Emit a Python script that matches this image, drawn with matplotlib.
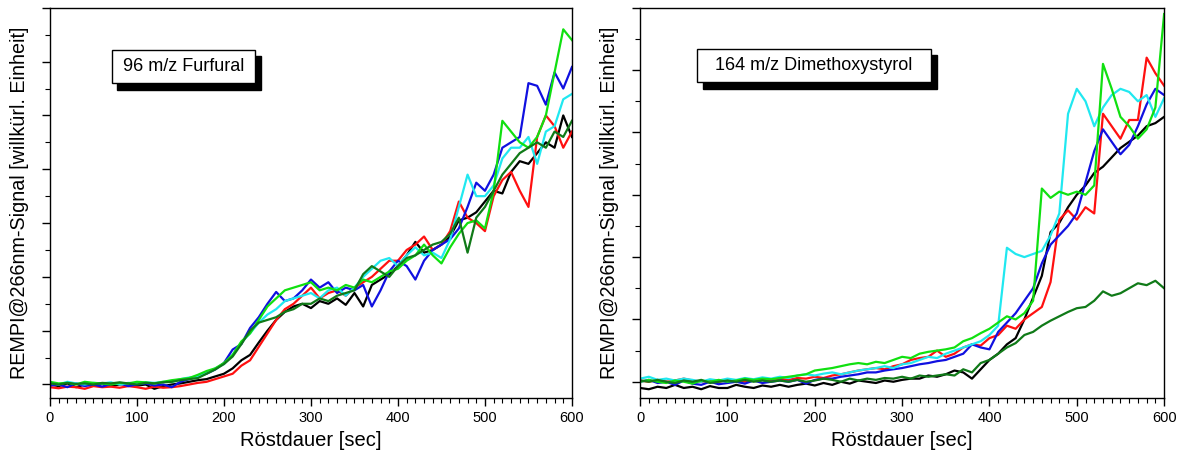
"""
REMPI-Signal während der Röstung: Furfural und Dimethoxystyrol
"""

import numpy as np
import matplotlib
matplotlib.use("Agg")
import matplotlib.pyplot as plt
from matplotlib.patches import Rectangle
from matplotlib.ticker import MultipleLocator

plt.rcParams['font.family'] = ['Liberation Sans', 'DejaVu Sans']

t_sec = np.arange(0, 601, 10)

# 96 m/z Furfural (Einheiten = Hauptteilstriche)
furf_black = [0, -0.03, 0.02, -0.05, 0, -0.02, 0.01, -0.03, 0, 0.02, -0.02, 0, -0.08, -0.03, 0,
              0.02, 0.05, 0.08, 0.1, 0.15, 0.2, 0.3, 0.45, 0.55, 0.78,
              1.0, 1.2, 1.35, 1.45, 1.5, 1.42, 1.55, 1.5, 1.6, 1.48,
              1.7, 1.45, 1.85, 1.95, 2.05, 2.2, 2.4, 2.65, 2.45, 2.5,
              2.6, 2.75, 3.05, 3.1, 3.2, 3.4, 3.6, 3.55, 3.95, 4.15,
              4.1, 4.3, 4.5, 4.4, 5.0, 4.6]
furf_red = [-0.05, -0.07, -0.04, -0.05, -0.08, -0.03, -0.05, -0.04, -0.06, -0.03, -0.05, -0.08, -0.04, -0.06, -0.05,
            -0.03, 0, 0.03, 0.05, 0.1, 0.15, 0.2, 0.35, 0.45, 0.7,
            0.95, 1.2, 1.4, 1.5, 1.65, 1.8, 1.6, 1.7, 1.75, 1.65,
            1.8, 1.9, 2.0, 2.15, 2.3, 2.3, 2.5, 2.6, 2.75, 2.5,
            2.6, 2.85, 3.4, 3.1, 3.0, 2.85, 3.5, 3.8, 3.95, 3.6,
            3.3, 4.6, 5.0, 4.8, 4.4, 4.7]
furf_blue = [-0.02, 0.0, -0.05, 0.02, -0.03, 0, -0.04, 0.01, 0.02, -0.03, 0, 0.02, -0.02, 0, -0.05,
             0.05, 0.1, 0.15, 0.2, 0.28, 0.4, 0.65, 0.75, 1.05, 1.25,
             1.5, 1.72, 1.55, 1.6, 1.75, 1.95, 1.8, 1.9, 1.7, 1.8,
             1.75, 1.85, 1.45, 1.75, 2.1, 2.3, 2.2, 1.95, 2.3, 2.5,
             2.6, 2.7, 2.9, 3.3, 3.75, 3.6, 3.9, 4.4, 4.5, 4.6,
             5.6, 5.55, 5.2, 5.8, 5.5, 5.9]
furf_cyan = [0.03, 0, 0.05, 0.02, 0, 0.03, 0.02, 0.04, 0, 0.03, 0.02, 0.04, 0.03, 0.05, 0.05,
             0.1, 0.13, 0.15, 0.22, 0.3, 0.38, 0.55, 0.78, 0.95, 1.15,
             1.3, 1.4, 1.55, 1.6, 1.65, 1.7, 1.6, 1.75, 1.8, 1.65,
             1.8, 2.0, 2.15, 2.3, 2.35, 2.2, 2.4, 2.55, 2.4, 2.45,
             2.35, 2.7, 3.3, 3.9, 3.5, 3.5, 3.7, 4.2, 4.4, 4.4,
             4.6, 4.1, 4.7, 4.8, 5.3, 5.4]
furf_green = [0.05, 0.02, 0.03, 0, 0.05, 0.03, 0.02, 0.0, 0.03, 0.02, 0.05, 0.04, 0.02, 0.05, 0.08,
              0.1, 0.12, 0.18, 0.25, 0.3, 0.4, 0.55, 0.8, 0.95, 1.2,
              1.45, 1.6, 1.75, 1.8, 1.85, 1.9, 1.75, 1.8, 1.75, 1.85,
              1.8, 1.95, 1.9, 2.0, 2.1, 2.15, 2.3, 2.4, 2.6, 2.4,
              2.25, 2.55, 2.8, 3.0, 3.05, 2.9, 3.6, 4.9, 4.7, 4.5,
              4.4, 4.6, 5.0, 5.8, 6.6, 6.4]
furf_dkgreen = [0.02, 0.0, 0.03, 0.01, 0.02, 0.0, 0.03, 0.02, 0.04, 0.02, 0.0, 0.03, 0.02, 0.04, 0.05,
                0.08, 0.1, 0.12, 0.2, 0.28, 0.38, 0.52, 0.75, 1.0, 1.15,
                1.2, 1.25, 1.35, 1.4, 1.5, 1.5, 1.6, 1.55, 1.65, 1.7,
                1.75, 2.05, 2.2, 2.1, 2.0, 2.2, 2.35, 2.4, 2.5, 2.6,
                2.65, 2.8, 3.1, 2.45, 3.1, 3.3, 3.6, 3.9, 4.1, 4.3,
                4.4, 4.5, 4.4, 4.7, 4.6, 4.9]

# 164 m/z Dimethoxystyrol
dms_black = [-0.1, -0.12, -0.08, -0.1, -0.05, -0.1, -0.08, -0.12, -0.07, -0.1, -0.1, -0.05, -0.08, -0.1, -0.06,
             -0.08, -0.05, -0.08, -0.05, -0.03, -0.06, -0.02, -0.05, 0.0, -0.03,
             0.02, 0.0, -0.02, 0.02, 0.0, 0.03, 0.05, 0.05, 0.1, 0.08,
             0.12, 0.18, 0.15, 0.05, 0.2, 0.35, 0.45, 0.6, 0.7, 1.0,
             1.35, 1.7, 2.4, 2.55, 2.8, 3.0, 3.15, 3.35, 3.45, 3.6,
             3.75, 3.85, 3.95, 4.1, 4.15, 4.25]
dms_red = [0.02, 0, 0.03, 0.0, 0.02, 0.05, 0.02, 0.0, 0.02, 0.0, 0.03, 0.02, 0.0, 0.02, 0.03,
           0.02, 0.05, 0.03, 0.06, 0.05, 0.08, 0.06, 0.1, 0.12, 0.15,
           0.18, 0.2, 0.22, 0.2, 0.25, 0.28, 0.35, 0.38, 0.4, 0.5,
           0.4, 0.45, 0.55, 0.6, 0.58, 0.7, 0.75, 0.9, 0.85, 1.0,
           1.1, 1.2, 1.6, 2.6, 2.75, 2.6, 2.8, 2.7, 4.3, 4.1,
           3.9, 4.2, 4.2, 5.2, 4.95, 4.75]
dms_blue = [0.0, 0.03, -0.02, 0.0, -0.05, 0.02, -0.03, -0.05, 0.0, -0.04, -0.02, 0.0, -0.03, 0.02, -0.02,
            0.0, 0.02, 0.0, 0.03, -0.03, 0.03, 0.05, 0.05, 0.08, 0.1,
            0.12, 0.15, 0.15, 0.18, 0.2, 0.22, 0.25, 0.28, 0.3, 0.33,
            0.35, 0.4, 0.45, 0.6, 0.55, 0.52, 0.8, 0.95, 1.1, 1.3,
            1.5, 1.9, 2.2, 2.35, 2.5, 2.7, 3.2, 3.7, 4.05, 3.85,
            3.65, 3.8, 4.1, 4.45, 4.7, 4.6]
dms_cyan = [0.05, 0.08, 0.03, 0.05, 0.02, 0.05, 0.03, 0.0, 0.04, 0.02, 0.05, 0.03, 0.06, 0.04, 0.07,
            0.05, 0.08, 0.06, 0.1, 0.12, 0.1, 0.13, 0.15, 0.12, 0.15,
            0.18, 0.2, 0.22, 0.25, 0.22, 0.28, 0.3, 0.35, 0.4, 0.38,
            0.45, 0.5, 0.55, 0.6, 0.65, 0.75, 0.9, 2.15, 2.05, 2.0,
            2.05, 2.1, 2.35, 2.7, 4.3, 4.7, 4.5, 4.1, 4.4, 4.6,
            4.7, 4.65, 4.5, 4.6, 4.25, 4.55]
dms_green = [0.0, 0.03, 0.0, -0.02, 0.02, 0.0, -0.03, 0.02, 0.0, 0.03, 0.0, 0.02, 0.05, 0.03, 0.05,
             0.04, 0.06, 0.08, 0.1, 0.12, 0.18, 0.2, 0.22, 0.25, 0.28,
             0.3, 0.28, 0.32, 0.3, 0.35, 0.4, 0.38, 0.45, 0.48, 0.5,
             0.52, 0.55, 0.65, 0.7, 0.78, 0.85, 0.95, 1.05, 1.0, 1.1,
             1.3, 3.1, 2.95, 3.05, 3.0, 3.05, 3.0, 3.15, 5.1, 4.7,
             4.25, 4.1, 3.9, 4.05, 4.4, 5.9]
dms_dkgreen = [0.02, 0.0, 0.03, 0.0, -0.02, 0.02, 0.0, 0.03, -0.02, 0.0, 0.02, 0.0, 0.03, 0.0, 0.02,
               0.0, 0.02, 0.0, 0.03, 0.0, 0.02, 0.05, 0.03, 0.0, 0.05,
               0.02, 0.05, 0.03, 0.06, 0.05, 0.08, 0.05, 0.1, 0.08, 0.1,
               0.12, 0.1, 0.2, 0.15, 0.3, 0.35, 0.45, 0.55, 0.62, 0.75,
               0.8, 0.9, 0.98, 1.05, 1.12, 1.18, 1.2, 1.3, 1.45, 1.38,
               1.42, 1.5, 1.58, 1.55, 1.62, 1.5]

line_colors = ['#000000', '#ff1010', '#1010e0', '#20e8f0', '#10e010', '#107a18']

panels = [
    {'title': '96 m/z Furfural',
     'series': [furf_black, furf_red, furf_blue, furf_cyan, furf_green, furf_dkgreen],
     'ylim': (-0.25, 7.0),
     'box': (0.118, 0.806, 0.275, 0.086)},
    {'title': '164 m/z Dimethoxystyrol',
     'series': [dms_black, dms_red, dms_blue, dms_cyan, dms_green, dms_dkgreen],
     'ylim': (-0.26, 6.0),
     'box': (0.109, 0.809, 0.446, 0.086)},
]

fig = plt.figure(figsize=(11.81, 4.59), dpi=100)
ax_pos = [[0.0423, 0.133, 0.442, 0.850],
          [0.5420, 0.133, 0.4437, 0.850]]

for pos, panel in zip(ax_pos, panels):
    ax = fig.add_axes(pos)
    for values, col in zip(panel['series'], line_colors):
        ax.plot(t_sec, values, color=col, lw=1.6)

    ax.set_xlim(0, 600)
    ax.set_ylim(*panel['ylim'])

    # Achsen & Teilstriche
    ax.xaxis.set_major_locator(MultipleLocator(100))
    ax.xaxis.set_minor_locator(MultipleLocator(10))
    ax.yaxis.set_major_locator(MultipleLocator(1))
    ax.yaxis.set_minor_locator(MultipleLocator(0.5))
    ax.tick_params(axis='both', which='major', direction='out', length=6, width=1,
                   labelsize=10.5, top=False, right=False)
    ax.tick_params(axis='both', which='minor', direction='out', length=3.5, width=0.8,
                   top=False, right=False)
    ax.tick_params(axis='y', which='both', labelleft=False)
    for sp in ax.spines.values():
        sp.set_linewidth(1.0)

    ax.set_xlabel('Röstdauer [sec]', fontsize=14.5, labelpad=4)
    ax.set_ylabel('REMPI@266nm-Signal [willkürl. Einheit]', fontsize=14.2, labelpad=9)

    # Beschriftungskasten mit Schatten
    bx, by, bw, bh = panel['box']
    ax.add_patch(Rectangle((bx + 0.011, by - 0.016), bw, bh, transform=ax.transAxes,
                           facecolor='black', edgecolor='black', zorder=5))
    ax.add_patch(Rectangle((bx, by), bw, bh, transform=ax.transAxes,
                           facecolor='white', edgecolor='black', lw=1.0, zorder=6))
    ax.text(bx + bw / 2, by + bh / 2, panel['title'], transform=ax.transAxes,
            ha='center', va='center', fontsize=13, zorder=7)

fig.savefig('out.png', dpi=100)
